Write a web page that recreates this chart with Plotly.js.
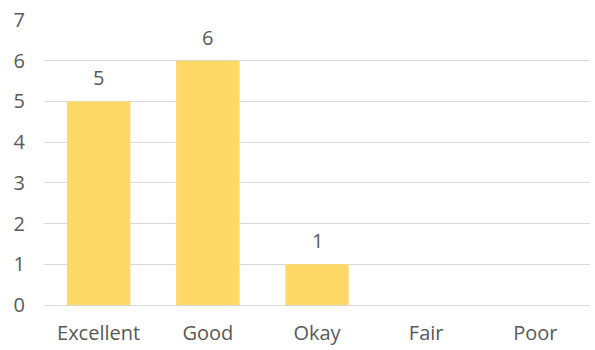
<!DOCTYPE html>
<html><head><meta charset="utf-8">
<script src="https://cdn.plot.ly/plotly-3.0.1.min.js"></script>
<style>body{margin:0;padding:0;background:#fff}#chart{width:595px;height:350px}</style>
</head><body><div id="chart"></div>
<script>
const categories = ["Excellent", "Good", "Okay", "Fair", "Poor"];
const counts = [5, 6, 1, 0, 0];
const yTicks = [0, 1, 2, 3, 4, 5, 6, 7];

const font = {family: "Open Sans, Liberation Sans, sans-serif", size: 20, color: "#595959"};

const annotations = categories.map((c, i) => counts[i] > 0 ? {
  x: c, y: counts[i], text: String(counts[i]), showarrow: false,
  yanchor: "bottom", yshift: 8, font: font
} : null).filter(a => a);

Plotly.newPlot("chart", [{
  type: "bar",
  x: categories,
  y: counts,
  marker: {color: "#FFD966"},
  hoverinfo: "none"
}], {
  width: 595, height: 350,
  margin: {l: 44, r: 5, t: 20, b: 45},
  paper_bgcolor: "#fff", plot_bgcolor: "#fff",
  bargap: 0.42,
  font: font,
  showlegend: false,
  annotations: annotations,
  xaxis: {showgrid: false, showline: false, zeroline: false, ticks: "", tickfont: font, ticklabelstandoff: 14},
  yaxis: {range: [0, 7], tickvals: yTicks, showgrid: true, gridcolor: "#d9d9d9", gridwidth: 1,
          zeroline: true, zerolinecolor: "#d9d9d9", zerolinewidth: 1, showline: false,
          ticks: "", tickfont: font, ticklabelstandoff: 18}
}, {displayModeBar: false, staticPlot: true});
</script></body></html>
